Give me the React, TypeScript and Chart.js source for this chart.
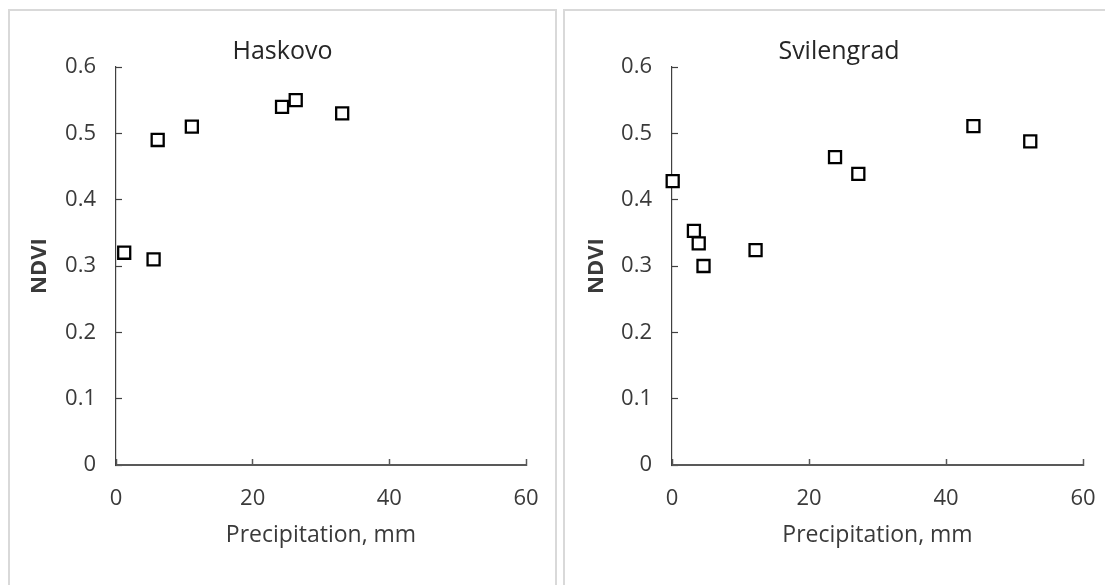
import React, { useEffect, useRef } from 'react';
import { Chart, registerables } from 'chart.js';

Chart.register(...registerables);

// ---- Data ----
const haskovoPrecip = [1.2, 5.5, 6.1, 11.1, 24.3, 26.3, 33.1];
const haskovoNdvi = [0.32, 0.31, 0.49, 0.51, 0.54, 0.55, 0.53];

const svilengradPrecip = [0.1, 3.2, 3.9, 4.6, 12.2, 23.8, 27.2, 44.0, 52.3];
const svilengradNdvi = [0.428, 0.353, 0.334, 0.3, 0.324, 0.464, 0.439, 0.511, 0.488];

const xTickValues = [0, 20, 40, 60];
const xTickLabels = ['0', '20', '40', '60'];
const yTickValues = [0, 0.1, 0.2, 0.3, 0.4, 0.5, 0.6];
const yTickLabels = ['0', '0.1', '0.2', '0.3', '0.4', '0.5', '0.6'];

const xAxisTitle = 'Precipitation, mm';
const yAxisTitle = 'NDVI';

const FONT = "'Open Sans', 'Noto Sans', sans-serif";
const AXIS_COLOR = '#595959';
const TEXT_COLOR = '#3a3a3a';

type PanelProps = {
  title: string;
  xs: number[];
  ys: number[];
  left: number;
  width: number;
  yScaleWidth: number;
  rightPad: number;
  yTitlePad: number;
  yTickPad: number;
};

function Panel({ title, xs, ys, left, width, yScaleWidth, rightPad, yTitlePad, yTickPad }: PanelProps) {
  const ref = useRef<HTMLCanvasElement | null>(null);

  useEffect(() => {
    if (!ref.current) return;
    const points = xs.map((x, i) => ({ x, y: ys[i] }));
    const chart = new Chart(ref.current, {
      type: 'scatter',
      data: {
        datasets: [
          {
            data: points,
            pointStyle: 'rect',
            pointRadius: 8.5,
            pointHoverRadius: 8.5,
            borderWidth: 2.3,
            borderColor: '#000000',
            backgroundColor: '#ffffff',
            clip: false,
          } as any,
        ],
      },
      options: {
        animation: false,
        responsive: false,
        devicePixelRatio: 1,
        events: [],
        layout: { padding: 0 },
        plugins: {
          legend: { display: false },
          tooltip: { enabled: false },
          title: {
            display: true,
            text: title,
            color: '#262626',
            font: { family: FONT, size: 25, weight: 'normal', lineHeight: 1.2 },
            padding: { top: 37, bottom: 0 },
          },
        },
        scales: {
          x: {
            type: 'linear',
            min: 0,
            max: 60,
            afterBuildTicks: (s: any) => {
              s.ticks = xTickValues.map((v) => ({ value: v }));
            },
            afterFit: (s: any) => {
              s.height = 120;
              s.paddingLeft = 0;
              s.paddingRight = rightPad;
            },
            ticks: {
              color: TEXT_COLOR,
              font: { family: FONT, size: 22, lineHeight: 1.2 },
              padding: 26.8,
              maxRotation: 0,
              autoSkip: false,
              callback: (v: any) => {
                const i = xTickValues.indexOf(Number(v));
                return i >= 0 ? xTickLabels[i] : '';
              },
            },
            grid: {
              display: true,
              drawOnChartArea: false,
              drawTicks: true,
              tickLength: -6,
              tickColor: AXIS_COLOR,
              tickWidth: 1.5,
            },
            border: { display: true, color: AXIS_COLOR, width: 2 },
            title: {
              display: true,
              text: xAxisTitle,
              color: TEXT_COLOR,
              font: { family: FONT, size: 23, lineHeight: 1.2 },
              padding: { top: 0, bottom: 35.5 },
            },
          },
          y: {
            type: 'linear',
            min: 0,
            max: 0.6,
            afterBuildTicks: (s: any) => {
              s.ticks = yTickValues.map((v) => ({ value: v }));
            },
            afterFit: (s: any) => {
              s.width = yScaleWidth;
            },
            ticks: {
              color: TEXT_COLOR,
              font: { family: FONT, size: 22, lineHeight: 1.2 },
              padding: yTickPad,
              autoSkip: false,
              callback: (v: any) => {
                const i = yTickValues.findIndex((t) => Math.abs(t - Number(v)) < 1e-9);
                return i >= 0 ? yTickLabels[i] : '';
              },
            },
            grid: {
              display: true,
              drawOnChartArea: false,
              drawTicks: true,
              tickLength: -6,
              tickColor: '#404040',
              tickWidth: 1.2,
            },
            border: { display: true, color: '#404040', width: 1.2 },
            title: {
              display: true,
              text: yAxisTitle,
              color: TEXT_COLOR,
              font: { family: FONT, size: 22, weight: 'bold', lineHeight: 1.2 },
              padding: { top: yTitlePad, bottom: 0 },
            },
          },
        },
      } as any,
    });
    return () => chart.destroy();
  }, [title, xs, ys, yScaleWidth, rightPad, yTitlePad, yTickPad]);

  return (
    <canvas
      ref={ref}
      width={width}
      height={585}
      style={{ position: 'absolute', left, top: 0, width, height: 585, display: 'block' }}
    />
  );
}

export default function App() {
  return (
    <div
      style={{
        position: 'fixed',
        left: 0,
        top: 0,
        width: 1105,
        height: 585,
        overflow: 'hidden',
        background: '#ffffff',
      }}
    >
      <div
        style={{
          position: 'absolute',
          left: 8,
          top: 9,
          width: 549,
          height: 620,
          boxSizing: 'border-box',
          border: '2px solid #d9d9d9',
        }}
      />
      <div
        style={{
          position: 'absolute',
          left: 563,
          top: 9,
          width: 600,
          height: 620,
          boxSizing: 'border-box',
          border: '2px solid #d9d9d9',
        }}
      />
      <Panel
        title="Haskovo"
        xs={haskovoPrecip}
        ys={haskovoNdvi}
        left={8}
        width={549}
        yScaleWidth={108}
        rightPad={31}
        yTitlePad={18.3}
        yTickPad={26}
      />
      <Panel
        title="Svilengrad"
        xs={svilengradPrecip}
        ys={svilengradNdvi}
        left={563}
        width={552}
        yScaleWidth={109}
        rightPad={32}
        yTitlePad={20.3}
        yTickPad={26}
      />
    </div>
  );
}
